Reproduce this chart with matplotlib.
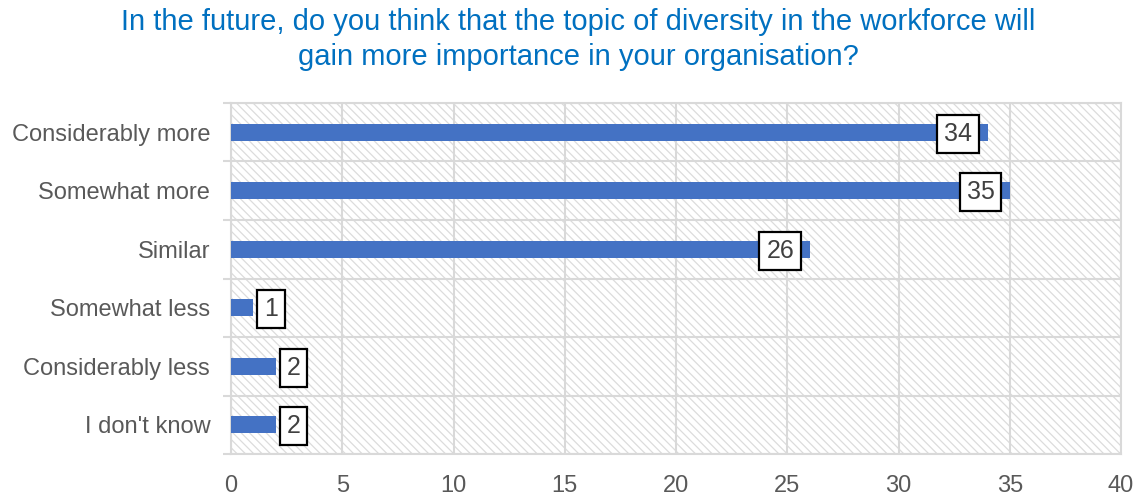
import matplotlib
matplotlib.use("Agg")
import matplotlib.pyplot as plt
from matplotlib.patches import Rectangle
from matplotlib.ticker import FixedLocator

plt.rcParams["font.family"] = ["Liberation Sans", "DejaVu Sans"]
plt.rcParams["hatch.linewidth"] = 0.9

categories = ["Considerably more", "Somewhat more", "Similar",
              "Somewhat less", "Considerably less", "I don't know"]
values = [34, 35, 26, 1, 2, 2]
x_ticks = [0, 5, 10, 15, 20, 25, 30, 35, 40]
title = ("In the future, do you think that the topic of diversity in the workforce will\n"
         "gain more importance in your organisation?")

bar_color = "#4472C4"
grid_color = "#d9d9d9"
text_color = "#595959"

fig = plt.figure(figsize=(11.41, 4.98), dpi=100)
ax = fig.add_axes([231 / 1141, 1 - 454 / 498, 890 / 1141, (454 - 103) / 498])

# hatched plot-area background
ax.add_patch(Rectangle((0, 0), 1, 1, transform=ax.transAxes, facecolor="white",
                       edgecolor="#dcdcdc", hatch="\\\\\\\\", linewidth=0, zorder=0))

y = list(range(len(categories)))
ax.barh(y, values, height=0.29, color=bar_color, zorder=3)

ax.set_xlim(0, 40)
ax.set_ylim(len(categories) - 0.5, -0.5)

ax.xaxis.set_major_locator(FixedLocator(x_ticks))
ax.set_yticks(y)
ax.set_yticklabels(categories)
ax.yaxis.set_minor_locator(FixedLocator([i - 0.5 for i in range(len(categories) + 1)]))

ax.tick_params(axis="both", which="major", length=0, labelsize=17, labelcolor=text_color)
ax.tick_params(axis="y", which="major", pad=15)
ax.tick_params(axis="x", which="major", pad=15)
ax.tick_params(axis="y", which="minor", length=6, width=1.5, color=grid_color)

ax.grid(axis="x", which="major", color=grid_color, linewidth=1.5, zorder=1)
ax.grid(axis="y", which="minor", color=grid_color, linewidth=1.5, zorder=1)
ax.set_axisbelow(True)
for side in ax.spines.values():
    side.set_color(grid_color)
    side.set_linewidth(1.5)

# value labels in boxes at bar ends
for yi, v in zip(y, values):
    if v >= 5:
        offset, ha = -11, "right"
    else:
        offset, ha = 8, "left"
    ax.annotate(str(v), xy=(v, yi), xytext=(offset, -1), textcoords="offset points",
                ha=ha, va="center", fontsize=18, color="#404040", zorder=5,
                bbox=dict(boxstyle="square,pad=0.28", facecolor="white",
                          edgecolor="black", linewidth=1.6))

fig.text(578 / 1141, 1 - 8 / 498, title, ha="center", va="top", fontsize=21,
         color="#0070C0", linespacing=1.3)

fig.savefig("out.png", dpi=100)
